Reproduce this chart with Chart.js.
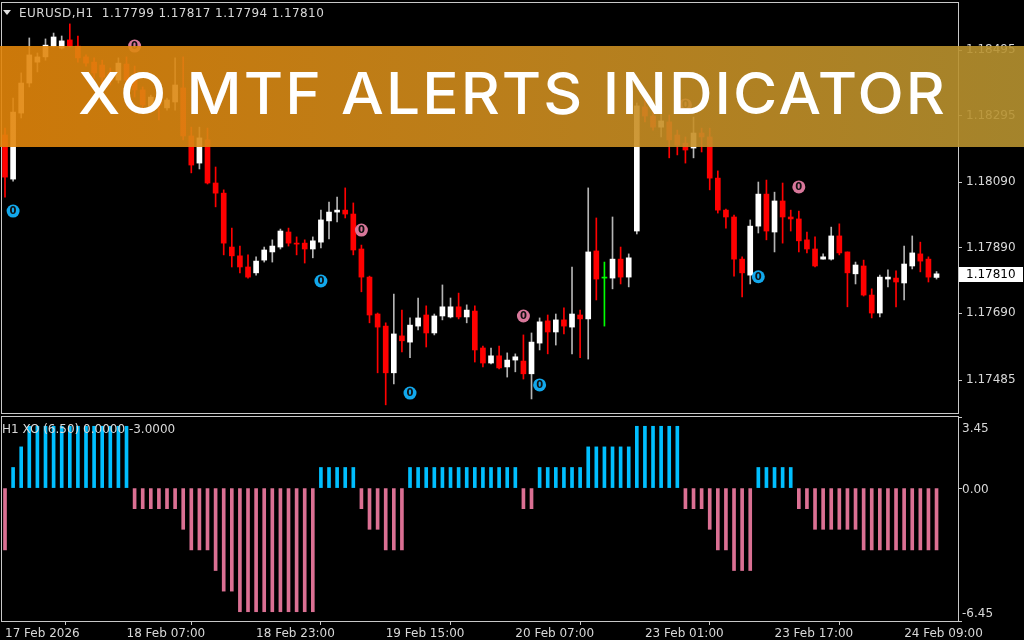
<!DOCTYPE html>
<html lang="en">
<head>
  <meta charset="UTF-8">
  <title>XO MTF Alerts Indicator</title>
  <script src="https://cdn.jsdelivr.net/npm/chart.js@4.4.0/dist/chart.umd.min.js"></script>
  <style>
    body {
      margin: 0;
      width: 1024px;
      height: 640px;
      overflow: hidden;
      position: relative;
      background: #000;
      font-family: 'DejaVu Sans', sans-serif;
    }
    #priceBox { position: absolute; left: 0; top: 0; }
    #xoBox { position: absolute; left: 0; top: 416px; }
    .hdr {
      position: absolute;
      color: #d8d8d8;
      font-size: 12px;
      white-space: pre;
    }
    .tri {
      position: absolute;
      left: 3px; top: 10px;
      width: 0; height: 0;
      border-left: 4px solid transparent;
      border-right: 4px solid transparent;
      border-top: 5px solid #e0e0e0;
    }
    #banner {
      position: absolute;
      left: 0; top: 46px;
      width: 1024px; height: 101px;
      background: linear-gradient(90deg, rgba(226, 133, 10, 0.9), rgba(206, 140, 30, 0.9) 50%, rgba(182, 146, 48, 0.9));
    }
    #banner span {
      position: absolute;
      left: 78px; top: 18px;
      color: #fff;
      font-family: 'Inter', sans-serif;
      font-weight: 500;
      font-size: 58px;
      line-height: 58px;
      letter-spacing: 2px;
      white-space: nowrap;
      transform-origin: 0 50%;
    }
  </style>
</head>
<body>
  <canvas id="priceBox" width="1024" height="416"></canvas>
  <canvas id="xoBox" width="1024" height="224"></canvas>

  <div class="tri"></div>
  <div class="hdr" style="left:19px; top:6px; letter-spacing:0.4px;">EURUSD,H1  1.17799 1.17817 1.17794 1.17810</div>
  <div class="hdr" style="left:2px; top:422px;">H1 XO (6.50) 0.0000 -3.0000</div>

  <div id="banner"><span id="bannerText">XO MTF ALERTS INDICATOR</span></div>

  <script>
    // EURUSD H1 candles, one per bar (index 0 = leftmost)
    const opens = [
      1.18235,1.18100,1.18302,1.18394,1.18458,1.18474,1.18507,1.18501,1.18526,1.18507,
      1.18474,1.18458,1.18449,1.18425,1.18403,1.18452,1.18403,1.18373,1.18318,1.18351,
      1.18318,1.18336,1.18379,1.18232,1.18149,1.18220,1.18088,1.18057,1.17892,1.17865,
      1.17831,1.17813,1.17852,1.17877,1.17892,1.17938,1.17904,1.17904,1.17886,1.17907,
      1.17972,1.17999,1.18005,1.17993,1.17886,1.17800,1.17687,1.17650,1.17507,1.17620,
      1.17601,1.17650,1.17684,1.17629,1.17681,1.17678,1.17709,1.17678,1.17696,1.17583,
      1.17537,1.17559,1.17525,1.17546,1.17543,1.17504,1.17598,1.17666,1.17632,1.17669,
      1.17647,1.17684,1.17672,1.17880,1.17797,1.17797,1.17855,1.17800,1.17941,1.18321,
      1.18293,1.18259,1.18275,1.18235,1.18210,1.18195,1.18241,1.18229,1.18103,1.18005,
      1.17984,1.17855,1.17806,1.17956,1.18054,1.17938,1.18033,1.17984,1.17978,1.17914,
      1.17886,1.17855,1.17855,1.17926,1.17877,1.17810,1.17834,1.17745,1.17690,1.17794,
      1.17797,1.17782,1.17834,1.17871,1.17855,1.17799
    ];
    const highs = [
      1.18256,1.18348,1.18425,1.18532,1.18486,1.18529,1.18547,1.18538,1.18575,1.18538,
      1.18480,1.18471,1.18464,1.18440,1.18471,1.18474,1.18446,1.18382,1.18357,1.18363,
      1.18348,1.18471,1.18474,1.18259,1.18259,1.18256,1.18137,1.18067,1.17950,1.17895,
      1.17868,1.17862,1.17892,1.17914,1.17947,1.17950,1.17923,1.17914,1.17923,1.18005,
      1.18030,1.18045,1.18073,1.18027,1.17898,1.17803,1.17690,1.17660,1.17748,1.17699,
      1.17675,1.17736,1.17712,1.17687,1.17776,1.17736,1.17751,1.17715,1.17712,1.17589,
      1.17583,1.17589,1.17568,1.17565,1.17623,1.17629,1.17675,1.17684,1.17687,1.17706,
      1.17831,1.17699,1.18073,1.17981,1.17846,1.17984,1.17892,1.17871,1.18333,1.18342,
      1.18311,1.18305,1.18296,1.18250,1.18229,1.18290,1.18256,1.18256,1.18125,1.18008,
      1.17990,1.17862,1.17975,1.18091,1.18097,1.18060,1.18088,1.18005,1.18002,1.17938,
      1.17923,1.17871,1.17953,1.17963,1.17877,1.17846,1.17852,1.17764,1.17806,1.17822,
      1.17819,1.17895,1.17926,1.17907,1.17862,1.17817
    ];
    const lows = [
      1.18045,1.18094,1.18287,1.18382,1.18428,1.18464,1.18504,1.18498,1.18504,1.18458,
      1.18446,1.18409,1.18379,1.18388,1.18394,1.18351,1.18351,1.18311,1.18311,1.18281,
      1.18311,1.18311,1.18220,1.18119,1.18131,1.18085,1.18015,1.17868,1.17831,1.17813,
      1.17797,1.17806,1.17846,1.17846,1.17886,1.17895,1.17868,1.17843,1.17859,1.17889,
      1.17917,1.17969,1.17981,1.17868,1.17755,1.17660,1.17507,1.17409,1.17473,1.17571,
      1.17553,1.17638,1.17586,1.17623,1.17669,1.17675,1.17672,1.17660,1.17540,1.17525,
      1.17534,1.17519,1.17494,1.17510,1.17488,1.17427,1.17577,1.17565,1.17592,1.17626,
      1.17565,1.17553,1.17549,1.17730,1.17650,1.17764,1.17779,1.17770,1.17932,1.18275,
      1.18250,1.18229,1.18165,1.18174,1.18149,1.18165,1.18183,1.18067,1.17996,1.17950,
      1.17803,1.17739,1.17779,1.17935,1.17914,1.17877,1.17904,1.17941,1.17877,1.17874,
      1.17831,1.17855,1.17852,1.17868,1.17709,1.17779,1.17742,1.17675,1.17678,1.17770,
      1.17709,1.17730,1.17825,1.17816,1.17785,1.17794
    ];
    const closes = [
      1.18106,1.18305,1.18394,1.18480,1.18474,1.18510,1.18535,1.18523,1.18507,1.18471,
      1.18455,1.18425,1.18412,1.18403,1.18455,1.18403,1.18373,1.18327,1.18351,1.18327,
      1.18342,1.18388,1.18232,1.18143,1.18226,1.18088,1.18057,1.17904,1.17865,1.17831,
      1.17800,1.17849,1.17883,1.17895,1.17941,1.17904,1.17901,1.17886,1.17911,1.17975,
      1.17999,1.18005,1.17993,1.17883,1.17800,1.17684,1.17647,1.17507,1.17626,1.17605,
      1.17653,1.17675,1.17629,1.17681,1.17709,1.17709,1.17678,1.17699,1.17577,1.17537,
      1.17559,1.17522,1.17546,1.17556,1.17504,1.17601,1.17663,1.17632,1.17669,1.17650,
      1.17687,1.17672,1.17877,1.17794,1.17797,1.17855,1.17800,1.17859,1.18324,1.18293,
      1.18259,1.18278,1.18220,1.18204,1.18189,1.18241,1.18229,1.18103,1.18005,1.17984,
      1.17855,1.17813,1.17956,1.18054,1.17941,1.18033,1.17984,1.17978,1.17911,1.17886,
      1.17834,1.17862,1.17926,1.17874,1.17813,1.17837,1.17745,1.17690,1.17800,1.17800,
      1.17785,1.17840,1.17874,1.17849,1.17800,1.17810
    ];

    // XO histogram (H1), same bars
    const xoValues = [
      -3, 1, 2, 3, 3, 3, 3, 3, 3, 3, 3, 3, 3, 3, 3, 3,
      -1, -1, -1, -1, -1, -1, -2, -3, -3, -3, -4, -5, -5,
      -6, -6, -6, -6, -6, -6, -6, -6, -6, -6,
      1, 1, 1, 1, 1, -1, -2, -2, -3, -3, -3,
      1, 1, 1, 1, 1, 1, 1, 1, 1, 1, 1, 1, 1, 1,
      -1, -1, 1, 1, 1, 1, 1, 1, 2, 2, 2, 2, 2, 2, 3, 3, 3, 3, 3, 3,
      -1, -1, -1, -2, -3, -3, -4, -4, -4,
      1, 1, 1, 1, 1, -1, -1, -2, -2, -2, -2, -2, -2,
      -3, -3, -3, -3, -3, -3, -3, -3, -3, -3
    ];

    // signal arrows ("0" markers)
    const buyIdx = [1, 39, 50, 66, 93];
    const buyPrice = [1.18002, 1.17788, 1.17445, 1.17470, 1.17801];
    const sellIdx = [16, 44, 64, 84, 98];
    const sellPrice = [1.18507, 1.17944, 1.17681, 1.18327, 1.18076];

    // axis labels
    const priceTicks = [1.18495, 1.18295, 1.18090, 1.17890, 1.17690, 1.17485];
    const xoTicks = [3.45, 0, -6.45];
    const timeTickIdx = [0, 15, 31, 47, 63, 79, 95, 111];
    const timeTickText = ['17 Feb 2026', '18 Feb 07:00', '18 Feb 23:00', '19 Feb 15:00',
                          '20 Feb 07:00', '23 Feb 01:00', '23 Feb 17:00', '24 Feb 09:00'];

    const X_MIN = -0.37, X_MAX = 117.65;
    const GRAY = '#c8c8c8';
    const TXT = '#d8d8d8';
    const FONT = { family: 'DejaVu Sans', size: 12 };

    const bodyColor = opens.map((o, i) => closes[i] > o ? '#ffffff' : (closes[i] < o ? '#ff0000' : '#00ff00'));
    const wickColor = opens.map((o, i) => closes[i] > o ? '#b4b4b4' : (closes[i] < o ? '#ff0000' : '#00ff00'));

    const frame = {
      id: 'frame',
      afterDraw(chart) {
        const { ctx, chartArea: a } = chart;
        ctx.save();
        ctx.strokeStyle = GRAY;
        ctx.lineWidth = 1;
        ctx.strokeRect(a.left - 0.5, a.top - 0.5, a.right - a.left + 1, a.bottom - a.top + 1);
        ctx.restore();
      }
    };

    const markerText = {
      id: 'markerText',
      afterDatasetsDraw(chart) {
        const ctx = chart.ctx;
        ctx.save();
        ctx.font = 'bold 10px "DejaVu Sans"';
        ctx.textAlign = 'center';
        ctx.textBaseline = 'middle';
        ctx.fillStyle = '#101010';
        [2, 3].forEach(d => {
          chart.getDatasetMeta(d).data.forEach(pt => ctx.fillText('0', pt.x, pt.y + 0.5));
        });
        ctx.restore();
      }
    };

    const lastPrice = {
      id: 'lastPrice',
      afterDraw(chart) {
        const { ctx, chartArea: a } = chart;
        const last = closes[closes.length - 1];
        const y = Math.round(chart.scales.y.getPixelForValue(last));
        ctx.save();
        ctx.fillStyle = '#fff';
        ctx.fillRect(a.right + 1, y - 7, 64, 15);
        ctx.fillStyle = '#000';
        ctx.font = '12px "DejaVu Sans"';
        ctx.textBaseline = 'middle';
        ctx.fillText(last.toFixed(5), a.right + 8, y + 1);
        ctx.restore();
      }
    };

    new Chart(document.getElementById('priceBox'), {
      type: 'bar',
      data: {
        datasets: [
          {
            data: opens.map((o, i) => ({ x: i, y: [o, closes[i]] })),
            backgroundColor: bodyColor,
            barThickness: 5,
            minBarLength: 1,
            grouped: false,
            order: 1
          },
          {
            data: lows.map((l, i) => ({ x: i, y: [l, highs[i]] })),
            backgroundColor: wickColor,
            barThickness: 1,
            grouped: false,
            order: 2
          },
          {
            type: 'scatter',
            data: buyIdx.map((x, k) => ({ x, y: buyPrice[k] })),
            pointRadius: 6.5,
            pointBackgroundColor: '#12a8ec',
            pointBorderWidth: 0,
            order: 0
          },
          {
            type: 'scatter',
            data: sellIdx.map((x, k) => ({ x, y: sellPrice[k] })),
            pointRadius: 6.5,
            pointBackgroundColor: '#d8779a',
            pointBorderWidth: 0,
            order: 0
          }
        ]
      },
      options: {
        responsive: false,
        animation: false,
        layout: { autoPadding: false, padding: { left: 2, top: 3, right: 0, bottom: 3 } },
        plugins: { legend: { display: false }, tooltip: { enabled: false } },
        scales: {
          x: { type: 'linear', min: X_MIN, max: X_MAX, offset: false, display: false },
          y: {
            type: 'linear',
            position: 'right',
            min: 1.17384,
            max: 1.18639,
            afterFit(s) { s.width = 66; s.paddingTop = 0; s.paddingBottom = 0; },
            afterBuildTicks(s) { s.ticks = priceTicks.map(v => ({ value: v })); },
            ticks: { color: TXT, font: FONT, padding: 4, callback: v => v.toFixed(5) },
            grid: { drawOnChartArea: false, color: GRAY, tickLength: 4 },
            border: { display: false }
          }
        }
      },
      plugins: [frame, markerText, lastPrice]
    });

    const xoLabels = {
      id: 'xoLabels',
      afterDraw(chart) {
        const { ctx, chartArea: a } = chart;
        const sc = chart.scales.y;
        const shift = [11.5, 1.5, -7.5];
        ctx.save();
        ctx.fillStyle = TXT;
        ctx.font = '12px "DejaVu Sans"';
        ctx.textBaseline = 'middle';
        xoTicks.forEach((v, k) => {
          ctx.fillText(v.toFixed(2), a.right + 4, sc.getPixelForValue(v) + shift[k]);
        });
        ctx.restore();
      }
    };

    new Chart(document.getElementById('xoBox'), {
      type: 'bar',
      data: {
        datasets: [{
          data: xoValues.map((v, i) => ({ x: i, y: v })),
          backgroundColor: xoValues.map(v => v > 0 ? '#00bfff' : '#db7093'),
          barThickness: 3,
          grouped: false
        }]
      },
      options: {
        responsive: false,
        animation: false,
        layout: { autoPadding: false, padding: { left: 2, top: 1, right: 0, bottom: 0 } },
        plugins: { legend: { display: false }, tooltip: { enabled: false } },
        scales: {
          x: {
            type: 'linear',
            min: X_MIN,
            max: X_MAX,
            offset: false,
            afterFit(s) { s.height = 19; s.paddingLeft = 0; s.paddingRight = 0; },
            afterBuildTicks(s) { s.ticks = timeTickIdx.map(v => ({ value: v })); },
            ticks: {
              color: TXT, font: FONT, padding: 2, align: 'start',
              maxRotation: 0, autoSkip: false,
              callback: (v, i) => timeTickText[i]
            },
            grid: { drawOnChartArea: false, color: GRAY, tickLength: 4 },
            border: { display: false }
          },
          y: {
            type: 'linear',
            position: 'right',
            min: -6.45,
            max: 3.45,
            afterFit(s) { s.width = 66; },
            afterBuildTicks(s) { s.ticks = xoTicks.map(v => ({ value: v })); },
            ticks: { display: false },
            grid: { drawOnChartArea: false, color: GRAY, tickLength: 4 },
            border: { display: false }
          }
        }
      },
      plugins: [frame, xoLabels]
    });

    // stretch the banner title to the width it has in the picture (trailing letter-space excluded)
    const bt = document.getElementById('bannerText');
    const w = bt.getBoundingClientRect().width - 2;
    bt.style.transform = 'scaleX(' + (867 / w) + ')';
  </script>
</body>
</html>
